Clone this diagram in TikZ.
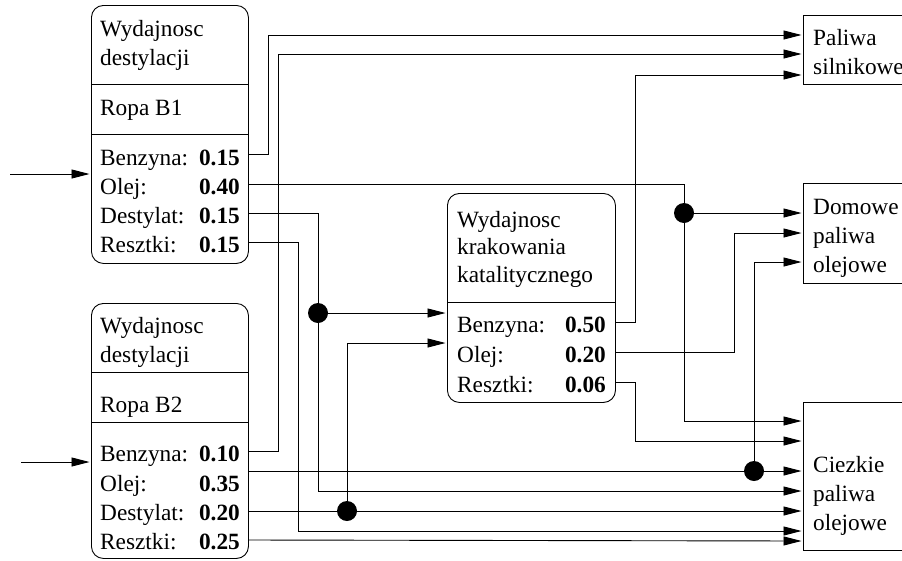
\documentclass[tikz,border=0pt]{standalone}
\usepackage{fontspec}
\setmainfont{Liberation Serif}
\usetikzlibrary{arrows.meta}
\tikzset{
  ybox/.style={draw, rounded corners=12pt, line width=0.9pt, inner sep=0pt, anchor=north west},
  obox/.style={draw, line width=0.9pt, inner sep=0pt, anchor=north west},
  txt/.style={inner sep=0pt, anchor=base west, font=\fontsize{23.3}{28}\selectfont},
  val/.style={inner sep=0pt, anchor=base east, font=\fontsize{23.3}{28}\selectfont\bfseries},
  wire/.style={line width=0.9pt},
  arr/.style={wire, -{Triangle[length=18pt,width=9pt]}, shorten >=1.5pt},
  dot/.style={circle, fill=black, minimum size=20pt, inner sep=0pt}
}
\begin{document}
\begin{tikzpicture}[x=1pt,y=-1pt]
\useasboundingbox (0,0) rectangle (902,560);
% ---- distillation B1 ----
\node[ybox, minimum width=157pt, minimum height=258pt] (b1) at (91,5) {};
\draw[wire] (91,84) -- (248,84) (91,134) -- (248,134);
\node[txt] (b1t1) at (100,36) {Wydajnosc};
\node[txt] (b1t2) at (100,65) {destylacji};
\node[txt] (b1t3) at (100,115) {Ropa B1};
\node[txt] (b1l1) at (100,165) {Benzyna:};
\node[txt] (b1l2) at (100,194) {Olej:};
\node[txt] (b1l3) at (100,223) {Destylat:};
\node[txt] (b1l4) at (100,252) {Resztki:};
\node[val] (b1v1) at (240,165) {0.15};
\node[val] (b1v2) at (240,194) {0.40};
\node[val] (b1v3) at (240,223) {0.15};
\node[val] (b1v4) at (240,252) {0.15};
% ---- distillation B2 ----
\node[ybox, minimum width=157pt, minimum height=255pt] (b2) at (91,303) {};
\draw[wire] (91,372) -- (248,372) (91,422) -- (248,422);
\node[txt] (b2t1) at (100,333) {Wydajnosc};
\node[txt] (b2t2) at (100,362) {destylacji};
\node[txt] (b2t3) at (100,412) {Ropa B2};
\node[txt] (b2l1) at (100,461) {Benzyna:};
\node[txt] (b2l2) at (100,491) {Olej:};
\node[txt] (b2l3) at (100,520) {Destylat:};
\node[txt] (b2l4) at (100,549) {Resztki:};
\node[val] (b2v1) at (240,461) {0.10};
\node[val] (b2v2) at (240,491) {0.35};
\node[val] (b2v3) at (240,520) {0.20};
\node[val] (b2v4) at (240,549) {0.25};
% ---- cracking ----
\node[ybox, minimum width=168pt, minimum height=209pt] (kr) at (447,193) {};
\draw[wire] (447,302) -- (615,302);
\node[txt] (kt1) at (457,227) {Wydajnosc};
\node[txt] (kt2) at (457,254) {krakowania};
\node[txt] (kt3) at (457,282) {katalitycznego};
\node[txt] (kl1) at (457,332) {Benzyna:};
\node[txt] (kl2) at (457,362) {Olej:};
\node[txt] (kl3) at (457,392) {Resztki:};
\node[val] (kv1) at (606,332) {0.50};
\node[val] (kv2) at (606,362) {0.20};
\node[val] (kv3) at (606,392) {0.06};
% ---- outputs ----
\node[obox, minimum width=110pt, minimum height=69pt] (ps) at (803,15) {};
\node[txt] (pst1) at (813,45) {Paliwa};
\node[txt] (pst2) at (813,74) {silnikowe};
\node[obox, minimum width=110pt, minimum height=100pt] (dp) at (803,183) {};
\node[txt] (dpt1) at (813,214) {Domowe};
\node[txt] (dpt2) at (813,243) {paliwa};
\node[txt] (dpt3) at (813,272) {olejowe};
\node[obox, minimum width=110pt, minimum height=148pt] (cp) at (803,402) {};
\node[txt] (cpt1) at (813,472) {Ciezkie};
\node[txt] (cpt2) at (813,501) {paliwa};
\node[txt] (cpt3) at (813,530) {olejowe};
% ---- ports ----
\coordinate (b1in) at (91,174);  \coordinate (b1src) at (10,174);
\coordinate (b2in) at (91,462);  \coordinate (b2src) at (21,462);
\coordinate (b1ben) at (248,154); \coordinate (b1ole) at (248,184);
\coordinate (b1des) at (248,213); \coordinate (b1res) at (248,242);
\coordinate (b2ben) at (248,451); \coordinate (b2ole) at (248,471);
\coordinate (b2des) at (248,511); \coordinate (b2res) at (248,540);
\coordinate (kin1) at (447,313); \coordinate (kin2) at (447,343);
\coordinate (kben) at (615,322); \coordinate (kole) at (615,352); \coordinate (kres) at (615,382);
\coordinate (p1) at (803,35); \coordinate (p2) at (803,54); \coordinate (p3) at (803,75);
\coordinate (d1) at (803,213); \coordinate (d2) at (803,233); \coordinate (d3) at (803,262);
\coordinate (c1) at (803,421); \coordinate (c2) at (803,441); \coordinate (c3) at (803,471);
\coordinate (c4) at (803,491); \coordinate (c5) at (803,511); \coordinate (c6) at (803,531);
\coordinate (c7) at (803,541);
% ---- connectors ----
\draw[arr] (b1src) -- (b1in);
\draw[arr] (b2src) -- (b2in);
\draw[arr] (b1ben) -- ++(20,0) |- (p1);
\draw[arr] (b2ben) -- ++(30,0) |- (p2);
\draw[arr] (kben) -- ++(20,0) |- (p3);
\node[dot] (dA) at (684,213) {};
\draw[wire] (b1ole) -| (dA);
\draw[arr] (dA) -- (d1);
\draw[arr] (dA) |- (c1);
\draw[arr] (kole) -- ++(119,0) |- (d2);
\node[dot] (dD) at (754,471) {};
\draw[arr] (b2ole) -- (c3);
\draw[arr] (dD) |- (d3);
\draw[arr] (kres) -- ++(20,0) |- (c2);
\node[dot] (dB) at (318,313) {};
\draw[wire] (b1des) -| (dB);
\draw[arr] (dB) -- (kin1);
\draw[arr] (dB) |- (c4);
\draw[arr] (b1res) -- ++(50,0) |- (c6);
\node[dot] (dC) at (347,511) {};
\draw[arr] (b2des) -- (c5);
\draw[arr] (dC) |- (kin2);
\draw[arr] (b2res) -- (c7);
\end{tikzpicture}
\end{document}
